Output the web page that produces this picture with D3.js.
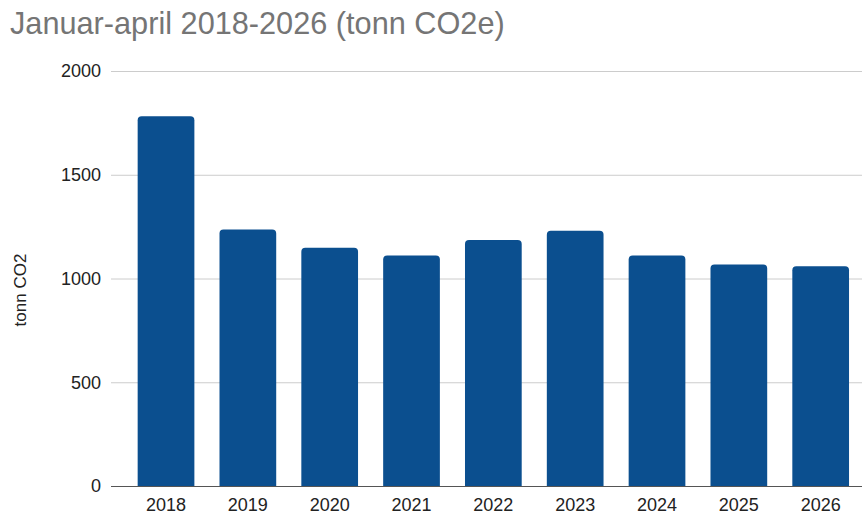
<!DOCTYPE html>
<html>
<head>
<meta charset="utf-8">
<script src="https://cdn.jsdelivr.net/npm/d3@7"></script>
<style>
  body { margin: 0; background: #fff; }
  text { font-family: Arial, "Liberation Sans", sans-serif; }
</style>
</head>
<body>
<div id="main"></div>
<script>
// values
const years = ["2018", "2019", "2020", "2021", "2022", "2023", "2024", "2025", "2026"];
const emissions = [1782, 1236, 1148, 1111, 1185, 1230, 1111, 1067, 1059];
const yTicks = [0, 500, 1000, 1500, 2000];

const config = {width: 863, height: 514, plotLeft: 111, plotRight: 862, top: 71, bottom: 486};

const svg = d3.select("#main")
    .append("svg")
    .attr("width", config.width)
    .attr("height", config.height);

const xScale = d3.scaleBand()
    .domain(years)
    .range([121.3, 865.4])
    .paddingInner(0.307)
    .paddingOuter(0.2);

const yScale = d3.scaleLinear()
    .domain([0, 2000])
    .range([config.bottom, config.top]);

// gridlines
svg.append("g")
    .selectAll("line")
    .data(yTicks.filter(d => d > 0))
    .join("line")
    .attr("x1", config.plotLeft)
    .attr("x2", config.plotRight)
    .attr("y1", d => yScale(d) + 0.5)
    .attr("y2", d => yScale(d) + 0.5)
    .attr("stroke", "#cccccc")
    .attr("stroke-width", 1);

// y tick labels
svg.append("g")
    .selectAll("text")
    .data(yTicks)
    .join("text")
    .attr("x", 101)
    .attr("y", d => yScale(d))
    .attr("dy", "0.35em")
    .attr("text-anchor", "end")
    .attr("font-size", 18)
    .attr("fill", "#222")
    .text(d => d);

// bars, rounded on top
const r = 4;
svg.append("g")
    .selectAll("path")
    .data(years.map((y, i) => ({year: y, value: emissions[i]})))
    .join("path")
    .attr("d", d => {
        const x0 = xScale(d.year), x1 = x0 + xScale.bandwidth();
        const y0 = yScale(d.value), yb = yScale(0);
        return `M${x0},${yb}V${y0 + r}Q${x0},${y0} ${x0 + r},${y0}H${x1 - r}Q${x1},${y0} ${x1},${y0 + r}V${yb}Z`;
    })
    .attr("fill", "#0b4f8f");

// baseline
svg.append("line")
    .attr("x1", config.plotLeft)
    .attr("x2", config.plotRight)
    .attr("y1", yScale(0) + 0.5)
    .attr("y2", yScale(0) + 0.5)
    .attr("stroke", "#555")
    .attr("stroke-width", 1);

// x labels
svg.append("g")
    .selectAll("text")
    .data(years)
    .join("text")
    .attr("x", d => xScale(d) + xScale.bandwidth() / 2)
    .attr("y", 511)
    .attr("text-anchor", "middle")
    .attr("font-size", 18)
    .attr("fill", "#222")
    .text(d => d);

// y axis title
svg.append("text")
    .attr("transform", "translate(26,290) rotate(-90)")
    .attr("text-anchor", "middle")
    .attr("font-size", 17)
    .attr("fill", "#222")
    .text("tonn CO2");

// title
svg.append("text")
    .attr("x", 10)
    .attr("y", 34)
    .attr("font-size", 30.7)
    .attr("fill", "#757575")
    .text("Januar-april 2018-2026 (tonn CO2e)");
</script>
</body>
</html>
